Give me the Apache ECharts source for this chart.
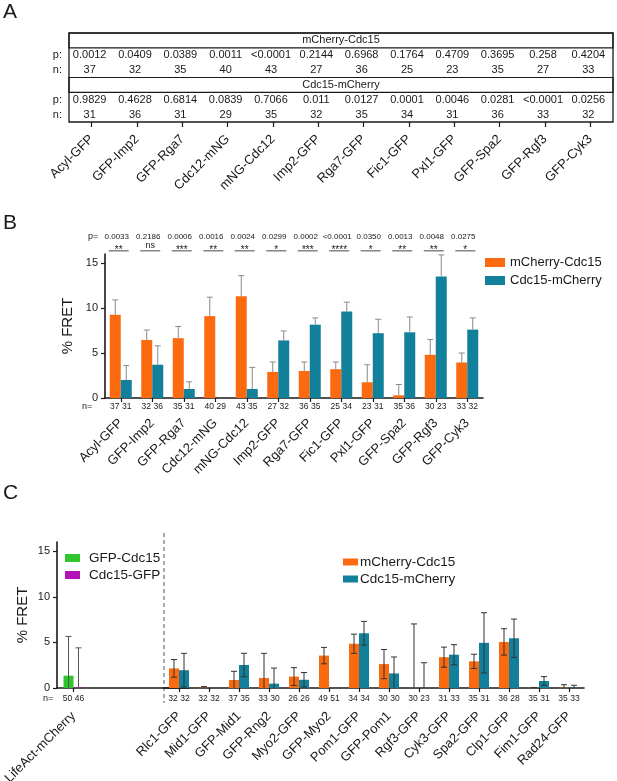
<!DOCTYPE html>
<html>
<head>
<meta charset="utf-8">
<title>% FRET</title>
<script src="https://cdn.jsdelivr.net/npm/echarts@6/dist/echarts.min.js"></script>
<style>
html, body { margin: 0; padding: 0; background: #fff; }
#main { width: 617px; height: 781px; }
</style>
</head>
<body>
<div id="main"></div>
<script>
// ---- panel A / B categories ----
var catsAB = ["Acyl-GFP", "GFP-Imp2", "GFP-Rga7", "Cdc12-mNG", "mNG-Cdc12", "Imp2-GFP",
  "Rga7-GFP", "Fic1-GFP", "Pxl1-GFP", "GFP-Spa2", "GFP-Rgf3", "GFP-Cyk3"];

// panel A table
var tableHeaders = ["mCherry-Cdc15", "Cdc15-mCherry"];
var tableRowLabels = ["", "p:", "n:", "", "p:", "n:"];
var pTableMC = ["0.0012", "0.0409", "0.0389", "0.0011", "<0.0001", "0.2144", "0.6968", "0.1764", "0.4709", "0.3695", "0.258", "0.4204"];
var nTableMC = [37, 32, 35, 40, 43, 27, 36, 25, 23, 35, 27, 33];
var pTableCM = ["0.9829", "0.4628", "0.6814", "0.0839", "0.7066", "0.011", "0.0127", "0.0001", "0.0046", "0.0281", "<0.0001", "0.0256"];
var nTableCM = [31, 36, 31, 29, 35, 32, 35, 34, 31, 36, 33, 32];

// panel B
var meanB_MC = [9.25, 6.45, 6.65, 9.1, 11.3, 2.9, 3.0, 3.2, 1.75, 0.3, 4.8, 3.95];
var sdB_MC = [1.65, 1.1, 1.3, 2.1, 2.3, 1.1, 1.0, 0.8, 1.95, 1.2, 1.7, 1.05];
var meanB_CM = [2.0, 3.7, 1.0, 0, 1.0, 6.4, 8.15, 9.6, 7.2, 7.3, 13.5, 7.6];
var sdB_CM = [1.6, 2.1, 0.8, 0, 2.4, 1.05, 0.75, 1.05, 1.55, 1.7, 2.4, 1.3];
var nB_MC = [37, 32, 35, 40, 43, 27, 36, 25, 23, 35, 30, 33];
var nB_CM = [31, 36, 31, 29, 35, 32, 35, 34, 31, 36, 23, 32];
var pB = ["0.0033", "0.2186", "0.0006", "0.0016", "0.0024", "0.0299", "0.0002", "<0.0001", "0.0350", "0.0013", "0.0048", "0.0275"];
var sigB = ["**", "ns", "***", "**", "**", "*", "***", "****", "*", "**", "**", "*"];

// panel C, left part
var catsLife = ["LifeAct-mCherry", " ", "  ", "   "];
var meanLifeN = [1.35];   // GFP-Cdc15
var sdLifeN = [4.3];
var meanLifeC = [0.05];   // Cdc15-GFP
var sdLifeC = [4.35];
var nLifeN = [50];
var nLifeC = [46];

// panel C, right part
var catsC = ["Rlc1-GFP", "Mid1-GFP", "GFP-Mid1", "GFP-Rng2", "Myo2-GFP", "GFP-Myo2", "Pom1-GFP",
  "GFP-Pom1", "Rgf3-GFP", "Cyk3-GFP", "Spa2-GFP", "Clp1-GFP", "Fim1-GFP", "Rad24-GFP"];
var meanC_MC = [2.15, 0.03, 0.88, 1.1, 1.25, 3.55, 4.85, 2.62, 0.02, 3.38, 2.92, 5.05, 0.02, 0.03];
var sdC_MC = [0.97, 0.12, 0.95, 2.7, 0.98, 0.9, 1.05, 1.6, 7.0, 1.1, 0.78, 1.45, 0.04, 0.33];
var meanC_CM = [1.95, 0, 2.52, 0.48, 0.9, 0, 6.0, 1.6, 0.02, 3.65, 4.95, 5.45, 0.77, 0.03];
var sdC_CM = [1.85, 0, 1.28, 1.7, 0.8, 0, 1.3, 1.8, 2.75, 1.1, 3.3, 2.1, 0.48, 0.27];
var nC_MC = [32, 32, 37, 33, 26, 49, 34, 30, 30, 31, 35, 36, 35, 35];
var nC_CM = [32, 32, 35, 30, 26, 51, 34, 30, 23, 33, 31, 28, 31, 33];

var yTicks = [0, 5, 10, 15];

var FONT = "Liberation Sans, Arial, sans-serif";
var INK = "#1a1a1a";
var ORANGE = "#fc6a10", TEAL = "#12809a", GREEN = "#2fc52f", PURPLE = "#b412b4";

var chart = echarts.init(document.getElementById("main"));

// error bars (custom series): value = [cat, mean, sd, side]
function errorBars(barW, twoSided, color) {
  return function (params, api) {
    var i = api.value(0), m = api.value(1), s = api.value(2), side = api.value(3);
    if (!s) return null;
    var base = api.coord([i, m]);
    var x = base[0] + side * barW / 2;
    var top = api.coord([i, m + s])[1];
    var bot = twoSided ? api.coord([i, Math.max(0, m - s)])[1] : base[1];
    var st = { stroke: color, lineWidth: 1 };
    var kids = [
      { type: "line", shape: { x1: x, y1: top, x2: x, y2: bot }, style: st },
      { type: "line", shape: { x1: x - 3, y1: top, x2: x + 3, y2: top }, style: st }
    ];
    if (twoSided && m - s > 0) {
      kids.push({ type: "line", shape: { x1: x - 3, y1: bot, x2: x + 3, y2: bot }, style: st });
    }
    return { type: "group", children: kids };
  };
}

function errData(means, sds, side) {
  return means.map(function (m, i) { return [i, m, sds[i], side]; });
}

function nFormatter(a, b) {
  return function (value, index) {
    if (a[index] === undefined) return "";
    return "{a|" + a[index] + "}{b|" + b[index] + "}";
  };
}
var nRich = {
  a: { width: 12, align: "center", fontSize: 8.5, color: INK, fontFamily: FONT },
  b: { width: 12, align: "center", fontSize: 8.5, color: INK, fontFamily: FONT }
};

function mainCatAxis(grid, data, margin, tickInterval) {
  return {
    gridIndex: grid, type: "category", data: data, position: "bottom",
    axisLine: { show: true, lineStyle: { color: INK, width: 1.6 } },
    axisTick: { show: true, alignWithLabel: true, length: 4, interval: tickInterval || 0,
      lineStyle: { color: INK, width: 1.2 } },
    axisLabel: { rotate: 45, margin: margin, fontSize: 13, color: INK, fontFamily: FONT, interval: 0 },
    splitLine: { show: false }
  };
}
function nAxis(grid, data, a, b, margin) {
  return {
    gridIndex: grid, type: "category", data: data, position: "bottom",
    axisLine: { show: false }, axisTick: { show: false }, splitLine: { show: false },
    axisLabel: { interval: 0, margin: margin, formatter: nFormatter(a, b), rich: nRich }
  };
}
function valAxis(grid, show) {
  return {
    gridIndex: grid, type: "value", min: 0, max: 16, show: show,
    name: "% FRET", nameLocation: "middle", nameGap: 27,
    nameTextStyle: { fontSize: 15, color: INK, fontFamily: FONT },
    axisLine: { show: true, lineStyle: { color: INK, width: 1.6 } },
    axisTick: { show: true, length: 4, customValues: yTicks, lineStyle: { color: INK, width: 1.2 } },
    axisLabel: { customValues: yTicks, fontSize: 11, color: INK, fontFamily: FONT, margin: 7 },
    splitLine: { show: false }
  };
}

// table cells for panel A
var tableCells = [];
[[pTableMC, 1], [nTableMC, 2], [pTableCM, 4], [nTableCM, 5]].forEach(function (r) {
  r[0].forEach(function (v, i) { tableCells.push({ col: i, row: r[1], text: String(v) }); });
});

var option = {
  animation: false,
  backgroundColor: "#fff",
  textStyle: { fontFamily: FONT },
  grid: [
    { left: 69, top: 33, width: 544, height: 89, show: true, borderColor: INK, borderWidth: 1.3, outerBoundsMode: "none" },
    { left: 105, top: 254, width: 378, height: 144, outerBoundsMode: "none" },
    { left: 57, top: 542, width: 132, height: 146, outerBoundsMode: "none" },
    { left: 164, top: 542, width: 420, height: 146, outerBoundsMode: "none" }
  ],
  xAxis: [
    {
      gridIndex: 0, type: "category", data: catsAB, position: "bottom",
      axisLine: { show: false },
      axisTick: { show: true, alignWithLabel: true, length: 5, lineStyle: { color: INK, width: 1.2 } },
      axisLabel: { rotate: 45, margin: 15, fontSize: 13, color: INK, fontFamily: FONT, interval: 0 },
      splitLine: { show: false }
    },
    mainCatAxis(1, catsAB, 23),
    nAxis(1, catsAB, nB_MC, nB_CM, 4),
    mainCatAxis(2, catsLife, 26, function (idx) { return idx === 0; }),
    nAxis(2, catsLife, nLifeN, nLifeC, 6),
    mainCatAxis(3, catsC, 26),
    nAxis(3, catsC, nC_MC, nC_CM, 6)
  ],
  yAxis: [
    {
      gridIndex: 0, type: "category", data: tableRowLabels, inverse: true,
      axisLine: { show: false }, axisTick: { show: false }, splitLine: { show: false },
      axisLabel: { margin: 7, fontSize: 11, color: INK, fontFamily: FONT }
    },
    valAxis(1, true),
    valAxis(2, true),
    valAxis(3, false)
  ],
  legend: [
    {
      data: ["mCherry-Cdc15", "Cdc15-mCherry"], orient: "vertical", left: 485, top: 256,
      itemWidth: 20, itemHeight: 9, itemGap: 5, padding: 0, icon: "rect", selectedMode: false,
      textStyle: { fontSize: 13, color: INK, fontFamily: FONT }
    },
    {
      data: ["GFP-Cdc15", "Cdc15-GFP"], orient: "vertical", left: 65, top: 551,
      itemWidth: 15, itemHeight: 8, itemGap: 3, padding: 0, icon: "rect", selectedMode: false,
      textStyle: { fontSize: 13.5, color: INK, fontFamily: FONT, padding: [0, 0, 0, 4] }
    },
    {
      data: ["mCherry-Cdc15", "Cdc15-mCherry"], orient: "vertical", left: 343, top: 555,
      itemWidth: 15, itemHeight: 7, itemGap: 3, padding: 0, icon: "rect", selectedMode: false,
      textStyle: { fontSize: 13.5, color: INK, fontFamily: FONT, padding: [0, 0, 0, -3] }
    }
  ],
  graphic: [
    { type: "text", left: 3, top: 2, style: { text: "A", fontSize: 21, fill: INK, fontFamily: FONT } },
    { type: "text", left: 3, top: 213, style: { text: "B", fontSize: 21, fill: INK, fontFamily: FONT } },
    { type: "text", left: 3, top: 483, style: { text: "C", fontSize: 21, fill: INK, fontFamily: FONT } },
    { type: "text", x: 88, y: 237, style: { text: "p=", fontSize: 9, fill: INK, fontFamily: FONT, verticalAlign: "middle" } },
    { type: "text", x: 82, y: 407, style: { text: "n=", fontSize: 9, fill: INK, fontFamily: FONT, verticalAlign: "middle" } },
    { type: "text", x: 43, y: 699, style: { text: "n=", fontSize: 9, fill: INK, fontFamily: FONT, verticalAlign: "middle" } },
    { type: "line", shape: { x1: 164, y1: 533, x2: 164, y2: 703 }, style: { stroke: "#555", lineWidth: 1, lineDash: [4, 3] } }
  ],
  series: [
    // panel A: header rows
    {
      type: "custom", xAxisIndex: 0, yAxisIndex: 0, clip: false, silent: true,
      data: [[0, 0], [0, 3]],
      renderItem: function (params, api) {
        var cs = params.coordSys;
        var c = api.coord([0, api.value(1)]);
        var h = api.size([0, 1])[1];
        return {
          type: "group", children: [
            { type: "rect", shape: { x: cs.x, y: c[1] - h / 2, width: cs.width, height: h },
              style: { fill: "transparent", stroke: INK, lineWidth: 1.2 } },
            { type: "text", x: cs.x + cs.width / 2, y: c[1],
              style: { text: tableHeaders[params.dataIndex], fill: INK, fontSize: 11, fontFamily: FONT,
                align: "center", verticalAlign: "middle" } }
          ]
        };
      }
    },
    // panel A: p / n cells
    {
      type: "custom", xAxisIndex: 0, yAxisIndex: 0, clip: false, silent: true,
      data: tableCells.map(function (c) { return [c.col, c.row]; }),
      renderItem: function (params, api) {
        var c = api.coord([api.value(0), api.value(1)]);
        return { type: "text", x: c[0] - 2, y: c[1],
          style: { text: tableCells[params.dataIndex].text, fill: INK, fontSize: 11, fontFamily: FONT,
            align: "center", verticalAlign: "middle" } };
      }
    },
    // panel B bars
    { type: "bar", name: "mCherry-Cdc15", xAxisIndex: 1, yAxisIndex: 1, data: meanB_MC,
      barWidth: 11, barGap: "0%", itemStyle: { color: ORANGE } },
    { type: "bar", name: "Cdc15-mCherry", xAxisIndex: 1, yAxisIndex: 1, data: meanB_CM,
      barWidth: 11, barGap: "0%", itemStyle: { color: TEAL } },
    { type: "custom", xAxisIndex: 1, yAxisIndex: 1, clip: false, silent: true, z: 5,
      data: errData(meanB_MC, sdB_MC, -1).concat(errData(meanB_CM, sdB_CM, 1)),
      renderItem: errorBars(11, false, "#8a8a8a") },
    // panel B: p values and significance
    {
      type: "custom", xAxisIndex: 1, yAxisIndex: 1, clip: false, silent: true,
      data: pB.map(function (p, i) { return [i, 16]; }),
      renderItem: function (params, api) {
        var i = api.value(0);
        var xc = api.coord([i, 0])[0];
        var yP = api.coord([i, 17.9])[1];
        var yL = api.coord([i, 16.35])[1];
        var s = sigB[params.dataIndex];
        return {
          type: "group", children: [
            { type: "text", x: xc - 4, y: yP, style: { text: pB[params.dataIndex], fill: INK, fontSize: 8,
              fontFamily: FONT, align: "center", verticalAlign: "middle" } },
            { type: "line", shape: { x1: xc - 12, y1: yL, x2: xc + 8, y2: yL }, style: { stroke: INK, lineWidth: 0.8 } },
            { type: "text", x: xc - 2, y: s === "ns" ? yL - 5 : yL - 1, style: { text: s, fill: INK,
              fontSize: s === "ns" ? 9 : 10, fontFamily: FONT, align: "center", verticalAlign: "middle" } }
          ]
        };
      }
    },
    // panel C left
    { type: "bar", name: "GFP-Cdc15", xAxisIndex: 3, yAxisIndex: 2, data: meanLifeN,
      barWidth: 10, barGap: "0%", itemStyle: { color: GREEN } },
    { type: "bar", name: "Cdc15-GFP", xAxisIndex: 3, yAxisIndex: 2, data: meanLifeC,
      barWidth: 10, barGap: "0%", itemStyle: { color: PURPLE } },
    { type: "custom", xAxisIndex: 3, yAxisIndex: 2, clip: false, silent: true, z: 5,
      data: errData(meanLifeN, sdLifeN, -1).concat(errData(meanLifeC, sdLifeC, 1)),
      renderItem: errorBars(10, true, "#555") },
    // panel C right
    { type: "bar", name: "mCherry-Cdc15", xAxisIndex: 5, yAxisIndex: 3, data: meanC_MC,
      barWidth: 10, barGap: "0%", itemStyle: { color: ORANGE } },
    { type: "bar", name: "Cdc15-mCherry", xAxisIndex: 5, yAxisIndex: 3, data: meanC_CM,
      barWidth: 10, barGap: "0%", itemStyle: { color: TEAL } },
    { type: "custom", xAxisIndex: 5, yAxisIndex: 3, clip: false, silent: true, z: 5,
      data: errData(meanC_MC, sdC_MC, -1).concat(errData(meanC_CM, sdC_CM, 1)),
      renderItem: errorBars(10, true, "#333") }
  ]
};

chart.setOption(option);
</script>
</body>
</html>
